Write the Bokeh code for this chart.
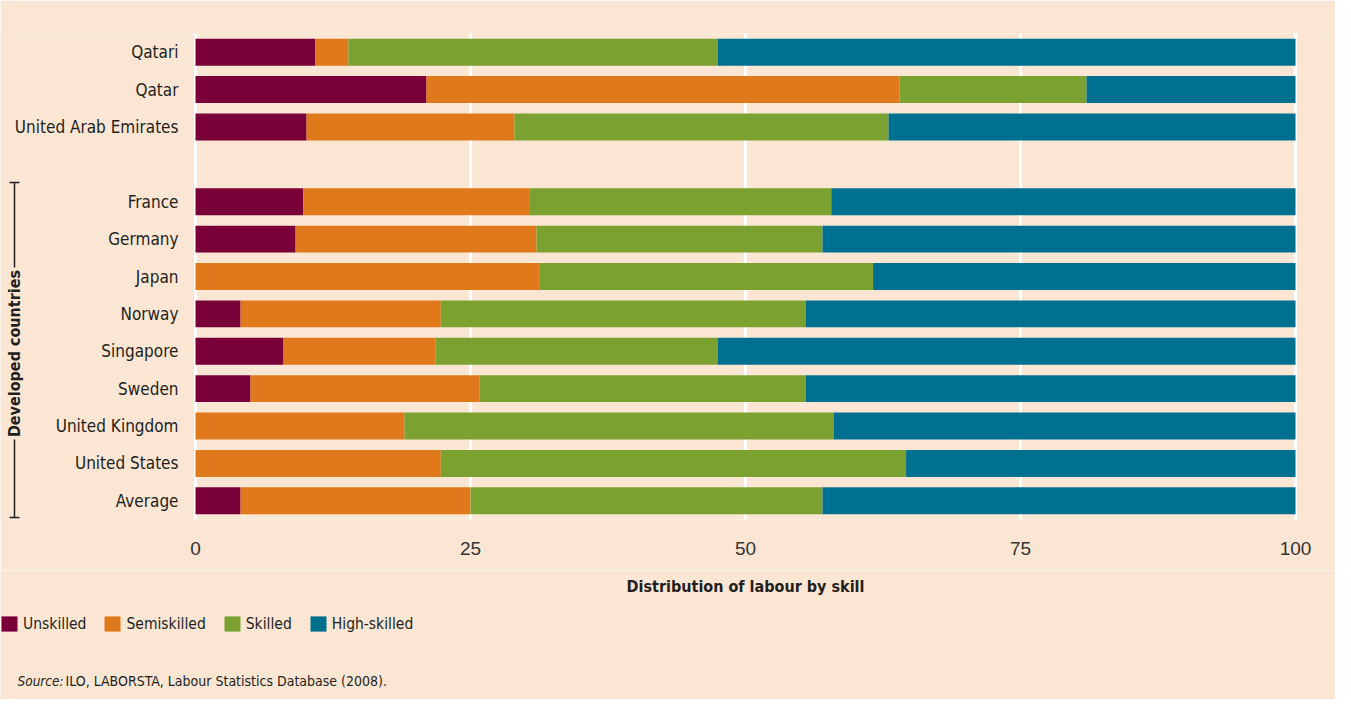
from math import pi
from bokeh.plotting import figure
from bokeh.layouts import column
from bokeh.models import ColumnDataSource, Range1d, FixedTicker, Legend, LegendItem
from bokeh.core.properties import value
from bokeh.embed import file_html
from bokeh.resources import INLINE

# ---------------- data ----------------
countries = ["Qatari", "Qatar", "United Arab Emirates", "France", "Germany", "Japan",
             "Norway", "Singapore", "Sweden", "United Kingdom", "United States", "Average"]
row_pos = [0, 1, 2, 4, 5, 6, 7, 8, 9, 10, 11, 12]
unskilled = [10.9, 21.0, 10.1, 9.8, 9.1, 0.0, 4.1, 8.0, 5.0, 0.0, 0.0, 4.1]
semiskilled = [3.0, 43.0, 18.9, 20.6, 21.9, 31.3, 18.2, 13.8, 20.8, 19.0, 22.3, 20.9]
skilled = [33.6, 17.0, 34.0, 27.4, 26.0, 30.3, 33.2, 25.7, 29.7, 39.0, 42.3, 32.0]
high_skilled = [52.5, 19.0, 37.0, 42.2, 43.0, 38.4, 44.5, 52.5, 44.5, 42.0, 35.4, 43.0]
series_names = ["Unskilled", "Semiskilled", "Skilled", "High-skilled"]
x_ticks = [0, 25, 50, 75, 100]

# ---------------- style ----------------
BG = "#FBE6D4"
TXT = "#231F20"
COLORS = ["#7A003A", "#E0791B", "#7BA130", "#007090"]
NARROW = "DejaVu Sans Condensed"
REG = "Liberation Sans"

# page pixel -> data helpers (frames span whole width)
ROW_PX = 486 / 13.0
def xd(px):
    return (px - 203) / 11.0
def yd(px):
    return -0.5 + (px - 41) / ROW_PX
FOOT_TOP = 578
def fy(px):
    return px - FOOT_TOP

src = ColumnDataSource(dict(country=countries, pos=row_pos, unskilled=unskilled,
                            semiskilled=semiskilled, skilled=skilled,
                            high_skilled=high_skilled))

xr = Range1d(xd(8), xd(1343))
p = figure(width=1335, height=570, output_backend="svg", toolbar_location=None,
           x_range=xr, y_range=Range1d(12.5, -0.5),
           y_axis_location=None, min_border_left=0, min_border_right=0,
           min_border_top=33, min_border_bottom=51)
p.background_fill_color = BG
p.border_fill_color = BG
p.outline_line_color = None

renderers = p.hbar_stack(["unskilled", "semiskilled", "skilled", "high_skilled"], y="pos",
                         height=0.72, fill_color=COLORS, line_color=None, source=src)

# country labels
p.text(x=xd(186), y="pos", text="country", source=src, text_align="right",
       text_baseline="middle", text_font=value(NARROW), text_font_size="17px",
       text_color=TXT)

# bracket for developed countries
bx = xd(22)
p.segment(x0=[bx, bx, xd(17), xd(17)], y0=[yd(190), yd(447), yd(190), yd(525)],
          x1=[bx, bx, xd(27), xd(27)], y1=[yd(275), yd(525), yd(190), yd(525)],
          line_color=TXT, line_width=1.5)
p.text(x=[bx], y=[yd(361)], text=["Developed countries"], angle=pi / 2,
       text_align="center", text_baseline="middle", text_font=value(NARROW),
       text_font_size="16px", text_font_style="bold", text_color=TXT)

# x axis
xa = p.xaxis[0]
xa.ticker = FixedTicker(ticks=x_ticks)
xa.axis_line_color = None
xa.major_tick_line_color = None
xa.minor_tick_line_color = None
xa.major_tick_in = 0
xa.major_tick_out = 0
xa.major_label_standoff = 22
xa.major_label_text_font = REG
xa.major_label_text_font_size = "19px"
xa.major_label_text_color = "#333333"

p.xgrid.grid_line_color = "white"
p.xgrid.grid_line_width = 3
p.ygrid.visible = False

# ---------------- footer (axis title, legend, source) ----------------
FH = 699 - 570
f = figure(width=1335, height=FH, output_backend="svg", toolbar_location=None,
           x_range=xr, y_range=Range1d(FH, 0), x_axis_location=None, y_axis_location=None,
           min_border=0)
f.background_fill_color = BG
f.border_fill_color = BG
f.outline_line_color = None
f.xgrid.visible = False
f.ygrid.visible = False

f.text(x=[50], y=[fy(594)], text=["Distribution of labour by skill"], text_align="center",
       text_baseline="middle", text_font=value(NARROW), text_font_size="16px",
       text_font_style="bold", text_color=TXT)

# legend swatches: zero-width bars placed off-view, used only for the legend keys
swatches = [f.hbar(y=[-1000], left=[0], right=[0], height=1, fill_color=c, line_color=None)
            for c in COLORS]
legend = Legend(items=[LegendItem(label=n, renderers=[r]) for n, r in zip(series_names, swatches)],
                orientation="horizontal", location=(-1, FH - fy(641)), glyph_width=20, glyph_height=19,
                label_standoff=4, spacing=16, padding=0, margin=0, border_line_color=None,
                background_fill_alpha=0, label_text_font=NARROW, label_text_font_size="15.5px",
                label_text_color=TXT, label_height=19)
f.add_layout(legend)

f.text(x=[xd(25)], y=[fy(688)], text=["Source:"], text_baseline="middle",
       text_font=value(NARROW), text_font_size="13.5px", text_font_style="italic",
       text_color=TXT)
f.text(x=[xd(73)], y=[fy(688)], text=["ILO, LABORSTA, Labour Statistics Database  (2008)."],
       text_baseline="middle", text_font=value(NARROW), text_font_size="14px",
       text_color=TXT)

layout = column(p, f, spacing=0)
open("out.html", "w").write(file_html(layout, INLINE))
